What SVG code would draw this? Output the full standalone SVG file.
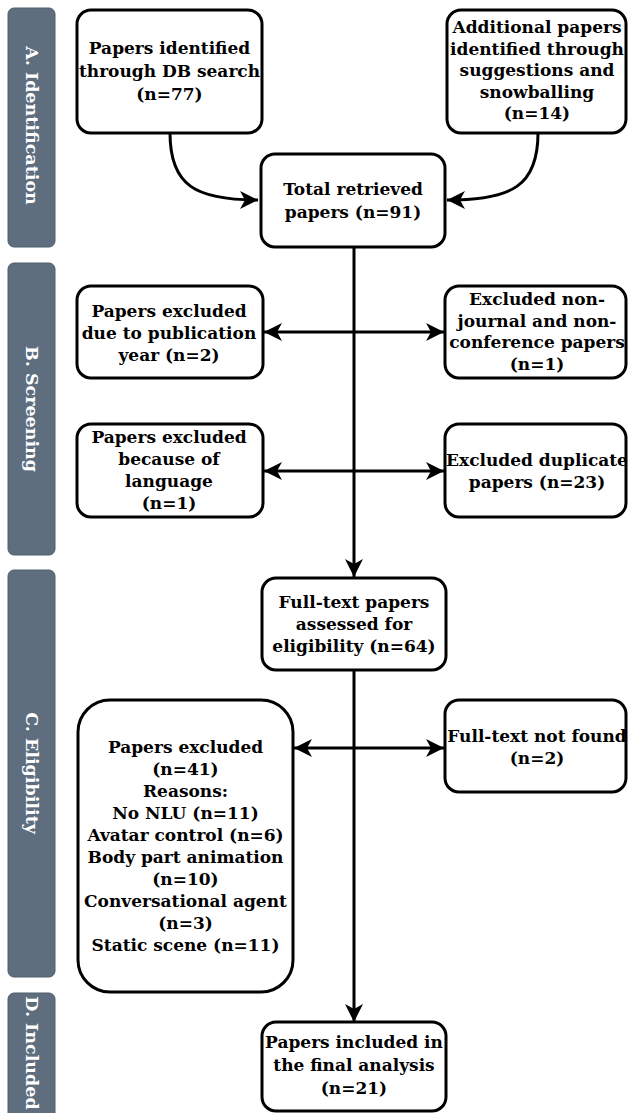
<svg xmlns="http://www.w3.org/2000/svg" width="628" height="1113" viewBox="0 0 628 1113">
<style>
.box{fill:#ffffff;stroke:#000000;stroke-width:3}
.bar{fill:#5e6e7f;stroke:#4f5e6e;stroke-width:1}
.t{font-family:"DejaVu Serif","Liberation Serif",serif;font-weight:bold;font-size:17px;fill:#000000;text-anchor:middle}
.lbl{font-family:"DejaVu Serif","Liberation Serif",serif;font-weight:bold;font-size:17.5px;fill:#ffffff;text-anchor:middle}
.c{fill:none;stroke:#000000;stroke-width:3}
</style>
<defs>
<marker id="ah" markerUnits="userSpaceOnUse" markerWidth="20" markerHeight="20" refX="18" refY="9" orient="auto-start-reverse">
<path d="M0,0 L18,9 L0,18 L5,9 Z" fill="#000000"/>
</marker>
</defs>

<g id="phase-a">
<rect class="bar" x="8" y="8" width="47" height="239" rx="6"/>
<text class="lbl" transform="translate(31.5,125.5) rotate(90)" dy="6">A. Identification</text>
</g>
<g id="phase-b">
<rect class="bar" x="8" y="263" width="47" height="292" rx="6"/>
<text class="lbl" transform="translate(31.5,409) rotate(90)" dy="6">B. Screening</text>
</g>
<g id="phase-c">
<rect class="bar" x="8" y="570" width="47" height="407" rx="6"/>
<text class="lbl" transform="translate(31.5,773) rotate(90)" dy="6">C. Eligibility</text>
</g>
<g id="phase-d">
<rect class="bar" x="8" y="993" width="47" height="130" rx="6"/>
<text class="lbl" transform="translate(31.5,1053) rotate(90)" dy="6">D. Included</text>
</g>

<g id="connectors">
<path class="c" d="M170,133 C170,186 196,200 258,200" marker-end="url(#ah)"/>
<path class="c" d="M538,133 C538,186 512,200 447,200" marker-end="url(#ah)"/>
<path class="c" d="M354,247 L354,577" marker-end="url(#ah)"/>
<path class="c" d="M264,332 L444,332" marker-start="url(#ah)" marker-end="url(#ah)"/>
<path class="c" d="M264,471 L444,471" marker-start="url(#ah)" marker-end="url(#ah)"/>
<path class="c" d="M354,670 L354,1022" marker-end="url(#ah)"/>
<path class="c" d="M294,748 L444,748" marker-start="url(#ah)" marker-end="url(#ah)"/>
</g>

<g id="db-search">
<rect class="box" x="77" y="10" width="185" height="123" rx="14"/>
<text class="t" x="169.5" y="54">Papers identified</text>
<text class="t" x="169.5" y="77">through DB search</text>
<text class="t" x="169.5" y="100">(n=77)</text>
</g>
<g id="additional">
<rect class="box" x="447" y="10" width="179" height="123" rx="14"/>
<text class="t" x="537" y="33">Additional papers</text>
<text class="t" x="537" y="54.5">identified through</text>
<text class="t" x="537" y="76">suggestions and</text>
<text class="t" x="537" y="97.5">snowballing</text>
<text class="t" x="537" y="119">(n=14)</text>
</g>
<g id="total">
<rect class="box" x="261" y="154" width="184" height="93" rx="14"/>
<text class="t" x="353" y="195">Total retrieved</text>
<text class="t" x="353" y="218">papers (n=91)</text>
</g>
<g id="excl-year">
<rect class="box" x="77" y="286" width="186" height="92" rx="14"/>
<text class="t" x="169" y="317">Papers excluded</text>
<text class="t" x="169" y="339">due to publication</text>
<text class="t" x="169" y="361">year (n=2)</text>
</g>
<g id="excl-nonjournal">
<rect class="box" x="445" y="286" width="181" height="92" rx="14"/>
<text class="t" x="537" y="305">Excluded non-</text>
<text class="t" x="537" y="326.5">journal and non-</text>
<text class="t" x="537" y="348">conference papers</text>
<text class="t" x="537" y="369.5">(n=1)</text>
</g>
<g id="excl-language">
<rect class="box" x="77" y="424" width="186" height="93" rx="14"/>
<text class="t" x="169" y="443">Papers excluded</text>
<text class="t" x="169" y="465">because of</text>
<text class="t" x="169" y="487">language</text>
<text class="t" x="169" y="509">(n=1)</text>
</g>
<g id="excl-duplicate">
<rect class="box" x="445" y="424" width="181" height="93" rx="14"/>
<text class="t" x="537" y="466">Excluded duplicate</text>
<text class="t" x="537" y="488">papers (n=23)</text>
</g>
<g id="fulltext">
<rect class="box" x="262" y="578" width="184" height="92" rx="14"/>
<text class="t" x="354" y="608">Full-text papers</text>
<text class="t" x="354" y="630">assessed for</text>
<text class="t" x="354" y="652">eligibility (n=64)</text>
</g>
<g id="excl-reasons">
<rect class="box" x="78" y="700" width="215" height="292" rx="32"/>
<text class="t" x="185.5" y="753">Papers excluded</text>
<text class="t" x="185.5" y="775">(n=41)</text>
<text class="t" x="185.5" y="797">Reasons:</text>
<text class="t" x="185.5" y="819">No NLU (n=11)</text>
<text class="t" x="185.5" y="841">Avatar control (n=6)</text>
<text class="t" x="185.5" y="863">Body part animation</text>
<text class="t" x="185.5" y="885">(n=10)</text>
<text class="t" x="185.5" y="907">Conversational agent</text>
<text class="t" x="185.5" y="929">(n=3)</text>
<text class="t" x="185.5" y="951">Static scene (n=11)</text>
</g>
<g id="not-found">
<rect class="box" x="445" y="700" width="181" height="92" rx="14"/>
<text class="t" x="537" y="742">Full-text not found</text>
<text class="t" x="537" y="764">(n=2)</text>
</g>
<g id="included">
<rect class="box" x="262" y="1022" width="184" height="89" rx="14"/>
<text class="t" x="354" y="1048">Papers included in</text>
<text class="t" x="354" y="1071">the final analysis</text>
<text class="t" x="354" y="1094">(n=21)</text>
</g>
</svg>
